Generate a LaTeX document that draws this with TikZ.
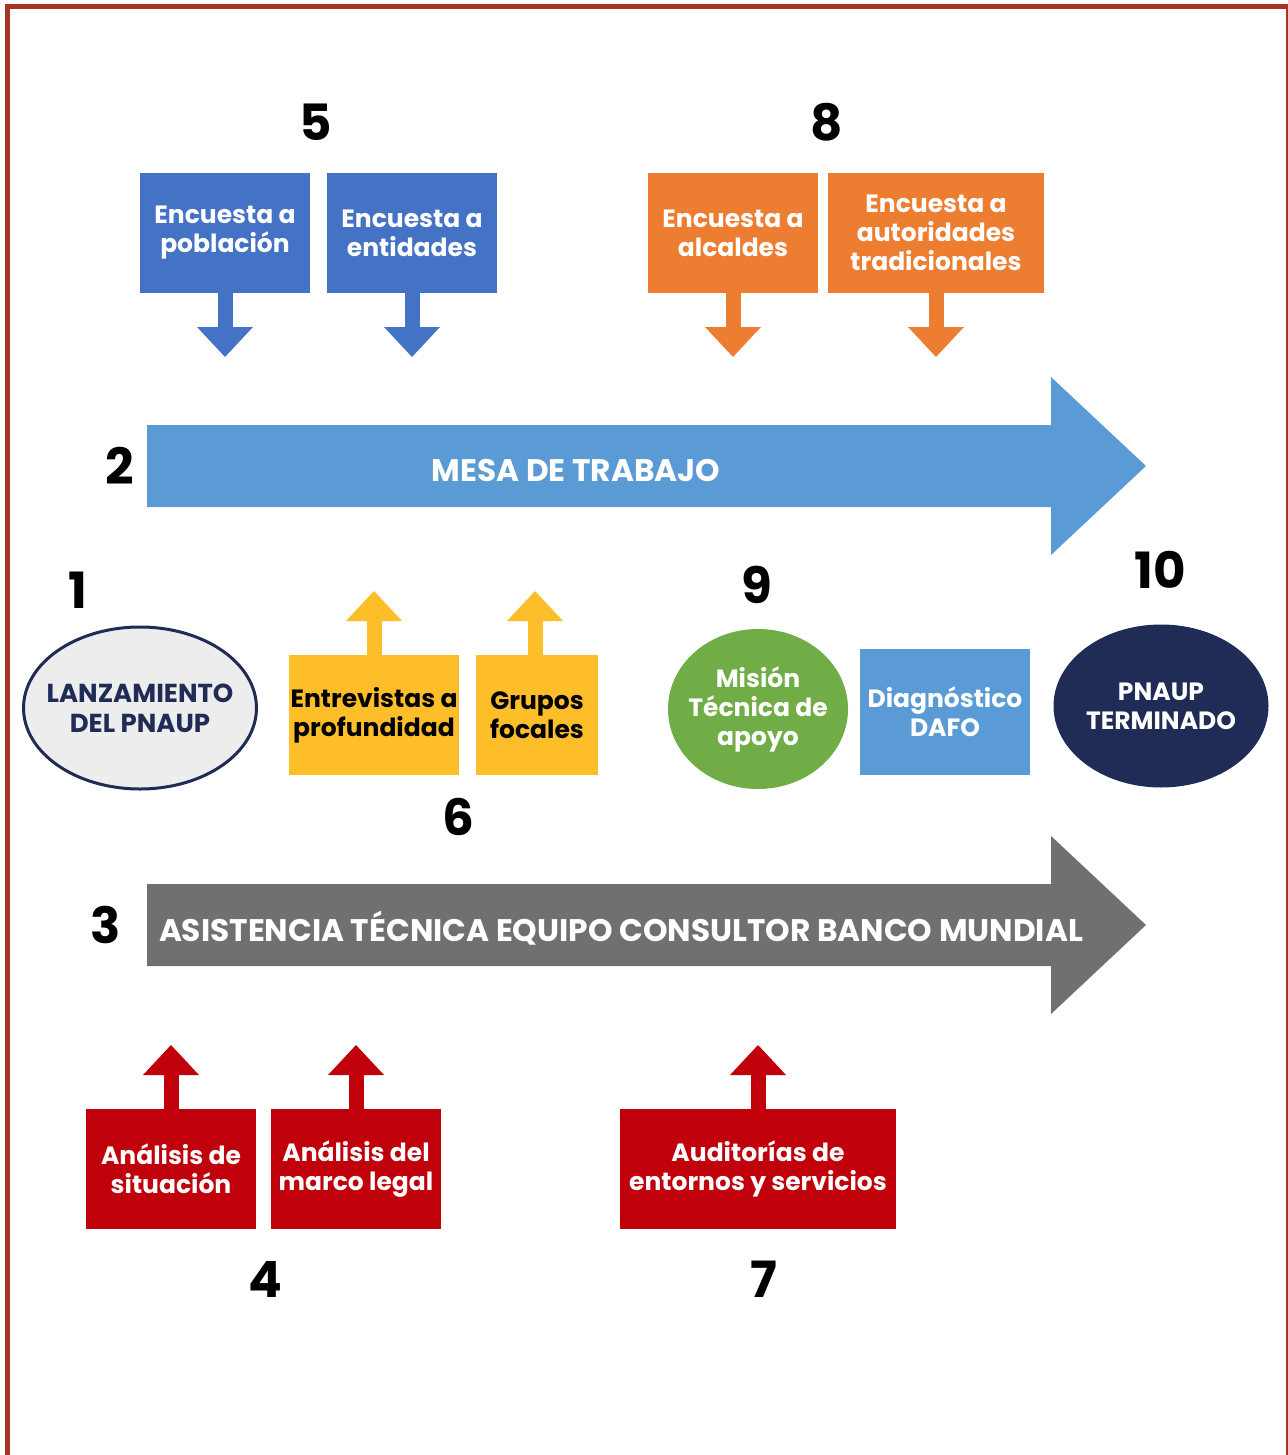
\documentclass[tikz,border=0pt]{standalone}
\usepackage{fontspec}
\setmainfont{Poppins}
\usepackage{tikz}
\usetikzlibrary{shapes.geometric,arrows.meta,positioning}

\definecolor{borde}{RGB}{169,52,38}
\definecolor{azul}{RGB}{68,114,196}
\definecolor{naranja}{RGB}{237,125,49}
\definecolor{celeste}{RGB}{91,155,213}
\definecolor{amarillo}{RGB}{253,190,42}
\definecolor{gris}{RGB}{112,112,112}
\definecolor{rojo}{RGB}{192,0,11}
\definecolor{verde}{RGB}{112,173,71}
\definecolor{marino}{RGB}{32,43,86}
\definecolor{perla}{RGB}{236,237,236}

\begin{document}
\begin{tikzpicture}[x=0.5pt,y=-0.5pt,
  every node/.style={inner sep=0pt, outer sep=0pt, align=center},
  num/.style={font=\bfseries\fontsize{25}{25}\selectfont},
  caja/.style={rectangle, fill=#1, text=white, minimum width=85pt, minimum height=60pt,
    font=\bfseries\fontsize{12.5}{14.5}\selectfont},
  ovalo/.style={ellipse, fill=#1, font=\bfseries\fontsize{12.5}{14.5}\selectfont},
  rotulo/.style={text=white, font=\bfseries\fontsize{15.6}{17}\selectfont},
  baja/.style={draw=#1, line width=7.5pt, -{Triangle[width=28pt,length=15pt,line width=0pt]}},
  sube/.style={draw=#1, line width=7.5pt, -{Triangle[width=28pt,length=15pt,line width=0pt]}}]
\useasboundingbox (0,0) rectangle (1288,1455);
\draw[borde, line width=2.5pt] (7.5,1470) -- (7.5,6.5) -- (1288.2,6.5) -- (1288.2,1470);

% numeros
\node[num] (n1) at (78,590) {1};
\node[num] (n2) at (120,466) {2};
\node[num] (n3) at (106,925) {3};
\node[num] (n4) at (265,1279) {4};
\node[num] (n5) at (316,122) {5};
\node[num] (n6) at (458,817) {6};
\node[num] (n7) at (764,1279) {7};
\node[num] (n8) at (827,122) {8};
\node[num] (n9) at (757,585) {9};
\node[num] (n10) at (1160,570) {10};

% flechas grandes
\fill[celeste] (147,425) -- (1051,425) -- (1051,377) -- (1146,466) -- (1051,555) -- (1051,507) -- (147,507) -- cycle;
\node[rotulo] (mesa) at (576,470) {MESA DE TRABAJO};
\fill[gris] (147,884) -- (1051,884) -- (1051,836) -- (1146,925) -- (1051,1014) -- (1051,966) -- (147,966) -- cycle;
\node[rotulo, anchor=west] (asist) at (159,928) {ASISTENCIA TÉCNICA EQUIPO CONSULTOR BANCO MUNDIAL};

% encuestas
\node[caja=azul] (pob) at (225,233) {Encuesta a\\población};
\node[caja=azul] (ent) at (412,233) {Encuesta a\\entidades};
\node[caja=naranja] (alc) at (733,233) {Encuesta a\\alcaldes};
\node[caja=naranja, minimum width=108pt] (aut) at (936,233) {Encuesta a\\autoridades\\tradicionales};
\coordinate (pob-a) at (225,357);
\coordinate (ent-a) at (412,357);
\coordinate (alc-a) at (733,357);
\coordinate (aut-a) at (936,357);
\draw[baja=azul] (pob.south) -- (pob-a);
\draw[baja=azul] (ent.south) -- (ent-a);
\draw[baja=naranja] (alc.south) -- (alc-a);
\draw[baja=naranja] (aut.south) -- (aut-a);

% fila central
\node[ovalo=perla, draw=marino, line width=1.5pt, text=marino, inner xsep=-5.5pt, minimum height=81pt,
  font=\bfseries\fontsize{13}{15}\selectfont] (lanz) at (140,708) {LANZAMIENTO\\DEL PNAUP};
\node[caja=amarillo, text=black] (entr) at (374,715) {Entrevistas a\\profundidad};
\node[caja=amarillo, text=black, minimum width=61pt] (grup) at (537,715) {Grupos\\focales};
\coordinate (entr-a) at (374,591);
\coordinate (grup-a) at (535,591);
\draw[sube=amarillo] (entr.north) -- (entr-a);
\draw[sube=amarillo] (grup.north -| grup-a) -- (grup-a);
\node[ovalo=verde, text=white, inner xsep=-3pt, minimum height=80pt] (mision) at (758,709) {Misión\\Técnica de\\apoyo};
\node[caja=celeste, minimum height=63pt] (dafo) at (945,712) {Diagnóstico\\DAFO};
\node[ovalo=marino, text=white, minimum width=107.5pt, minimum height=81.5pt] (fin) at (1161,706) {PNAUP\\TERMINADO};

% analisis y auditorias
\node[caja=rojo] (sit) at (171,1169) {Análisis de\\situación};
\node[caja=rojo] (leg) at (356,1169) {Análisis del\\marco legal};
\node[caja=rojo, minimum width=138pt] (aud) at (758,1169) {Auditorías de\\entornos y servicios};
\coordinate (sit-a) at (171,1045);
\coordinate (leg-a) at (356,1045);
\coordinate (aud-a) at (758,1045);
\draw[sube=rojo] (sit.north) -- (sit-a);
\draw[sube=rojo] (leg.north) -- (leg-a);
\draw[sube=rojo] (aud.north) -- (aud-a);
\end{tikzpicture}
\end{document}
